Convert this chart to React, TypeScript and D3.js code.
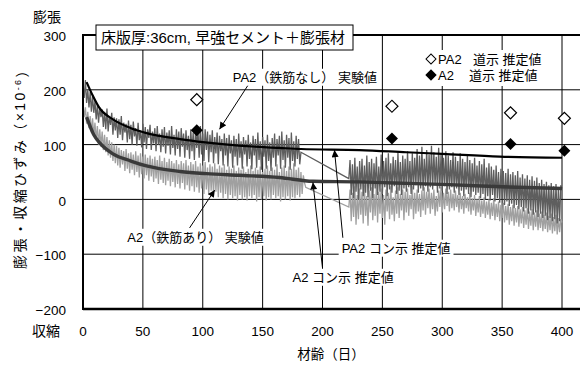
import * as d3 from "d3";
import { useEffect, useRef } from "react";

// readings are plotted once a day
const STEP = 1;

// PA2（鉄筋なし）実験値, day 0 - 182
const pa2ExpA = [
  212, 185, 218, 176, 200, 168, 196, 160, 188, 158,
  180, 146, 172, 140, 168, 150, 164, 132, 160, 128,
  166, 124, 152, 136, 158, 118, 150, 126, 148, 112,
  146, 118, 152, 108, 140, 122, 138, 104, 144, 110,
  136, 100, 142, 115, 130, 98, 140, 108, 126, 95,
  138, 104, 132, 92, 128, 112, 136, 90, 124, 102,
  130, 88, 134, 100, 120, 86, 128, 96, 132, 84,
  122, 98, 126, 82, 134, 94, 118, 80, 128, 92,
  124, 78, 130, 96, 120, 76, 126, 90, 116, 74,
  128, 88, 122, 72, 130, 94, 126, 76, 134, 82,
  120, 70, 128, 90, 124, 68, 118, 86, 126, 66,
  114, 84, 122, 64, 116, 88, 110, 62, 120, 80,
  112, 60, 118, 84, 108, 58, 116, 78, 110, 62,
  120, 76, 106, 56, 114, 82, 108, 60, 118, 74,
  104, 55, 116, 80, 110, 58, 122, 72, 106, 54,
  114, 78, 108, 56, 118, 70, 104, 52, 112, 76,
  120, 60, 110, 80, 116, 56, 124, 72, 108, 58,
  118, 76, 112, 54, 122, 70, 106, 60, 116, 74,
  110, 64, 86,
];
// PA2 実験値, day 222 - 400
const pa2ExpB = [
  38, 72, 8, 64, 2, 76, 14, 60,
  0, 70, 18, 74, 6, 62, 12, 80, 4, 68,
  16, 74, 2, 66, 20, 78, 8, 60, 14, 82,
  10, 70, 22, 76, 6, 84, 18, 66, 12, 78,
  24, 72, 10, 86, 16, 68, 8, 80, 20, 74,
  14, 88, 22, 70, 10, 84, 18, 76, 26, 92,
  12, 80, 20, 96, 16, 74, 24, 90, 14, 82,
  22, 98, 18, 86, 26, 78, 12, 94, 20, 84,
  16, 76, 24, 88, 10, 80, 18, 72, 22, 86,
  12, 78, 20, 70, 8, 84, 16, 74, 6, 68,
  18, 80, 10, 72, 4, 66, 14, 76, 8, 62,
  12, 70, 2, 64, 10, 74, 0, 58, 6, 66,
  -2, 60, 8, 54, -4, 62, 2, 50, -6, 56,
  0, 52, -10, 48, -4, 56, -12, 46, -8, 50,
  -16, 44, -10, 52, -18, 40, -14, 46, -22, 38,
  -16, 44, -26, 36, -20, 42, -28, 34, -24, 40,
  -32, 30, -26, 36, -34, 28, -30, 32, -38, 26,
  -34, 30, -40, 24, -36, 28, -44, 22, -40, 26,
  20,
];
// A2（鉄筋あり）実験値, day 0 - 186
const a2ExpA = [
  172, 150, 168, 138, 160, 130, 152, 122, 148, 116,
  140, 108, 134, 100, 128, 96, 124, 90, 118, 86,
  114, 80, 108, 76, 104, 70, 100, 66, 98, 62,
  94, 58, 90, 64, 88, 52, 92, 56, 84, 48,
  86, 54, 82, 44, 88, 50, 80, 40, 84, 46,
  78, 38, 82, 44, 76, 34, 80, 42, 74, 32,
  78, 38, 72, 28, 80, 36, 70, 30, 76, 26,
  68, 34, 74, 24, 70, 32, 66, 22, 72, 28,
  64, 20, 70, 30, 66, 18, 72, 26, 62, 16,
  68, 24, 64, 14, 70, 22, 60, 12, 66, 20,
  62, 10, 68, 18, 58, 8, 64, 16, 60, 6,
  66, 14, 56, 4, 62, 12, 58, 2, 64, 10,
  54, 0, 60, 8, 56, 2, 62, 6, 52, -2,
  58, 8, 54, 0, 60, 4, 50, -2, 56, 6,
  62, 2, 52, 8, 58, -4, 54, 4, 60, 0,
  50, 6, 56, -2, 62, 4, 52, 0, 58, 8,
  54, 2, 64, 6, 50, -4, 58, 4, 62, 0,
  52, 6, 60, -2, 56, 4, 66, 2, 54, 8,
  58, 4, 50, 10, 44, 30, 22,
];
// A2 実験値, day 222 - 400
const a2ExpB = [
  -14, 18, -40, 12, -32, 24, -46, 8,
  -36, 20, -28, 14, -44, 26, -30, 6, -48, 16,
  -24, 22, -38, 10, -30, 28, -42, 14, -26, 20,
  -34, 8, -46, 18, -22, 12, -36, 24, -28, 4,
  -40, 16, -26, 22, -34, 10, -20, 18, -38, 14,
  -24, 20, -30, 8, -18, 24, -36, 12, -26, 18,
  -22, 10, -32, 16, -20, 22, -28, 14, -16, 20,
  -26, 12, -18, 18, -30, 6, -22, 16, -14, 22,
  -24, 12, -18, 20, -12, 14, -22, 18, -16, 10,
  -20, 16, -14, 8, -24, 12, -18, 6, -26, 10,
  -16, 4, -22, 12, -28, 2, -20, 8, -30, 0,
  -24, 6, -32, -2, -26, 4, -34, -4, -28, 0,
  -36, -6, -30, 2, -38, -8, -32, -4, -40, -10,
  -34, -6, -42, -12, -38, -8, -46, -14, -40, -10,
  -48, -16, -42, -12, -50, -18, -44, -14, -52, -20,
  -46, -16, -54, -22, -48, -18, -56, -24, -50, -20,
  -56, -26, -52, -22, -58, -28, -54, -24, -60, -30,
  -56, -26, -62, -32, -58, -28, -64, -34, -60, -36,
  -42,
];

// コン示 推定値 [day, strain]
const pa2Con = [
  [3, 214], [8, 190], [14, 166], [25, 146], [40, 130], [53, 121], [81, 110],
  [102, 104], [130, 98], [164, 94], [182, 92], [231, 90], [270, 86],
  [300, 83], [348, 78], [400, 76],
];
const a2Con = [
  [3, 150], [9, 118], [14, 103], [25, 83], [40, 70], [53, 61], [81, 51],
  [103, 47], [130, 44], [164, 40], [192, 33], [231, 32], [260, 30],
  [306, 27], [350, 23], [400, 20],
];

// 道示 推定値 [day, strain]
const pa2Dou = [[95, 182], [258, 170], [357, 158], [402, 148]];
const a2Dou = [[95, 126], [258, 111], [357, 101], [402, 89]];

const xTicks = [0, 50, 100, 150, 200, 250, 300, 350, 400];
const yTicks = [300, 200, 100, 0, -100, -200];

// callouts: text start and arrow tail/tip in [day, strain]
const callouts = [
  { text: "PA2（鉄筋なし） 実験値", at: [125, 223], tail: [138, 209], tip: [114, 128] },
  { text: "A2（鉄筋あり） 実験値", at: [37, -69], tail: [89, -52], tip: [110, 17] },
  { text: "PA2 コン示 推定値", at: [216, -89], tail: [217, -70], tip: [210, 90] },
  { text: "A2 コン示 推定値", at: [175, -142], tail: [200, -125], tip: [192, 31] },
];

export default function App() {
  const ref = useRef<SVGSVGElement>(null);

  useEffect(() => {
    const svg = d3.select(ref.current);
    svg.selectAll("*").remove();

    const left = 83, right = 580, top = 35, bottom = 309;
    const font = "'Liberation Sans', Arial, 'Noto Sans CJK JP', sans-serif";

    const x = d3.scaleLinear().domain([0, 400]).range([left, 562]);
    const y = d3.scaleLinear().domain([-200, 300]).range([bottom, top]);

    svg
      .append("defs")
      .append("marker")
      .attr("id", "ah")
      .attr("viewBox", "0 0 10 10")
      .attr("refX", 10)
      .attr("refY", 5)
      .attr("markerWidth", 9)
      .attr("markerHeight", 7)
      .attr("markerUnits", "userSpaceOnUse")
      .attr("orient", "auto")
      .append("path")
      .attr("d", "M0,0L10,5L0,10Z")
      .attr("fill", "#000");

    // grid
    svg
      .selectAll("line.vg")
      .data(xTicks.slice(1))
      .enter()
      .append("line")
      .attr("x1", (d) => x(d))
      .attr("x2", (d) => x(d))
      .attr("y1", top)
      .attr("y2", bottom)
      .attr("stroke", "#000")
      .attr("stroke-width", 1);
    svg
      .selectAll("line.hg")
      .data(yTicks.slice(1, -1))
      .enter()
      .append("line")
      .attr("x1", left)
      .attr("x2", right)
      .attr("y1", (d) => y(d))
      .attr("y2", (d) => y(d))
      .attr("stroke", "#000")
      .attr("stroke-width", 1);

    const seg = (start: number, vals: number[]) =>
      vals.map((v, i) => [start + i * STEP, v]);

    const line = d3
      .line<number[]>()
      .x((d) => x(d[0]))
      .y((d) => y(d[1]));

    // experimental series (light A2 under dark PA2)
    svg
      .append("path")
      .attr("d", line([...seg(0, a2ExpA), ...seg(222, a2ExpB)]))
      .attr("fill", "none")
      .attr("stroke", "#a0a0a0")
      .attr("stroke-width", 1.3);
    svg
      .append("path")
      .attr("d", line([...seg(0, pa2ExpA), ...seg(222, pa2ExpB)]))
      .attr("fill", "none")
      .attr("stroke", "#5e5e5e")
      .attr("stroke-width", 1.3);

    const smooth = d3
      .line<number[]>()
      .x((d) => x(d[0]))
      .y((d) => y(d[1]))
      .curve(d3.curveMonotoneX);

    svg
      .append("path")
      .attr("d", smooth(a2Con))
      .attr("fill", "none")
      .attr("stroke", "#3a3a3a")
      .attr("stroke-width", 3.4);
    svg
      .append("path")
      .attr("d", smooth(pa2Con))
      .attr("fill", "none")
      .attr("stroke", "#000")
      .attr("stroke-width", 2.2);

    // frame
    svg.append("line").attr("x1", left).attr("x2", right).attr("y1", top).attr("y2", top)
      .attr("stroke", "#000").attr("stroke-width", 2);
    svg.append("line").attr("x1", left).attr("x2", right).attr("y1", bottom).attr("y2", bottom)
      .attr("stroke", "#000").attr("stroke-width", 2.5);
    svg.append("line").attr("x1", left).attr("x2", left).attr("y1", top - 1).attr("y2", bottom + 1)
      .attr("stroke", "#000").attr("stroke-width", 2);

    // tick labels
    svg
      .selectAll("text.xt")
      .data(xTicks)
      .enter()
      .append("text")
      .attr("x", (d) => x(d))
      .attr("y", 331)
      .attr("dy", "0.35em")
      .attr("text-anchor", "middle")
      .style("font", `13.5px ${font}`)
      .text((d) => d);
    svg
      .selectAll("text.yt")
      .data(yTicks)
      .enter()
      .append("text")
      .attr("x", 66)
      .attr("y", (d) => y(d) + 1.5)
      .attr("dy", "0.35em")
      .attr("text-anchor", "end")
      .style("font", `13.5px ${font}`)
      .text((d) => (d < 0 ? "−" + Math.abs(d) : d));

    const addText = (t: string, tx: number, ty: number, size: number, anchor = "middle") =>
      svg
        .append("text")
        .attr("x", tx)
        .attr("y", ty)
        .attr("dy", "0.35em")
        .attr("text-anchor", anchor)
        .style("font", `${size}px ${font}`)
        .text(t);

    addText("膨張", 47, 17, 14);
    addText("収縮", 46, 331, 14);
    addText("材齢（日）", 331, 354, 13.5);

    const yl = svg
      .append("text")
      .attr("transform", "translate(20,165) rotate(-90)")
      .attr("dy", "0.35em")
      .attr("text-anchor", "middle")
      .style("font", `14px ${font}`)
      .style("letter-spacing", "2.4px");
    yl.append("tspan").text("膨張・収縮ひずみ（×10");
    yl.append("tspan").attr("dy", "-0.45em").style("font-size", "9px").text("-6");
    yl.append("tspan").attr("dy", "0.45em").text("）");

    // callouts with white backing
    callouts.forEach((c) => {
      svg
        .append("line")
        .attr("x1", x(c.tail[0]))
        .attr("y1", y(c.tail[1]))
        .attr("x2", x(c.tip[0]))
        .attr("y2", y(c.tip[1]))
        .attr("stroke", "#000")
        .attr("stroke-width", 1)
        .attr("marker-end", "url(#ah)");
      const t = addText(c.text, x(c.at[0]), y(c.at[1]), 13, "start");
      const b = (t.node() as SVGTextElement).getBBox();
      svg
        .insert("rect", () => t.node())
        .attr("x", b.x - 3)
        .attr("y", b.y - 1)
        .attr("width", b.width + 6)
        .attr("height", b.height + 2)
        .attr("fill", "#fff");
    });

    // legend
    svg.append("rect").attr("x", 420).attr("y", 50).attr("width", 134).attr("height", 36).attr("fill", "#fff");
    const legendRows = [
      { name: "PA2", gap: 473, fill: "#fff", yy: 59 },
      { name: "A2", gap: 469, fill: "#000", yy: 75 },
    ];
    legendRows.forEach((r) => {
      svg
        .append("path")
        .attr("d", d3.symbol().type(d3.symbolSquare).size(50)())
        .attr("transform", `translate(431,${r.yy}) rotate(45)`)
        .attr("fill", r.fill)
        .attr("stroke", "#000")
        .attr("stroke-width", 1);
      addText(r.name, 438, r.yy, 13, "start");
      addText("道示 推定値", r.gap, r.yy, 13, "start");
    });

    // title box
    svg.append("rect").attr("x", 96).attr("y", 25).attr("width", 257).attr("height", 25)
      .attr("fill", "#fff").attr("stroke", "#000").attr("stroke-width", 1);
    addText("床版厚:36cm, 早強セメント＋膨張材", 101, 38, 15, "start");

    // 道示 markers
    const diamond = d3.symbol().type(d3.symbolSquare).size(72)();
    svg
      .selectAll("path.pd")
      .data(pa2Dou)
      .enter()
      .append("path")
      .attr("d", diamond)
      .attr("transform", (d) => `translate(${x(d[0])},${y(d[1])}) rotate(45)`)
      .attr("fill", "#fff")
      .attr("stroke", "#000")
      .attr("stroke-width", 1.2);
    svg
      .selectAll("path.ad")
      .data(a2Dou)
      .enter()
      .append("path")
      .attr("d", diamond)
      .attr("transform", (d) => `translate(${x(d[0])},${y(d[1])}) rotate(45)`)
      .attr("fill", "#000");
  }, []);

  return (
    <svg
      ref={ref}
      width={580}
      height={365}
      style={{ position: "absolute", left: 0, top: 0, background: "#fff" }}
    />
  );
}
